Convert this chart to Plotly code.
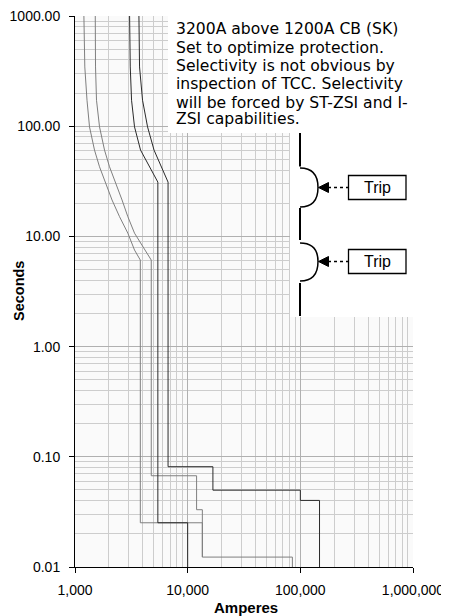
import plotly.graph_objects as go

gray_min_amps = [1197, 1222, 1278, 1345, 1490, 1651, 2131, 2485, 2944, 3376, 3800, 3800, 13500, 13500]
gray_min_secs = [1126, 345, 172, 98.6, 60.7, 42.8, 21.4, 15.1, 10.7, 7.52, 6.1, 0.0252, 0.0252, 0.0123]

gray_max_amps = [1512, 1521, 1552, 1651, 1828, 2025, 2615, 2944, 3376, 4142, 4751, 4751,
                 12000, 12000, 13500, 13500, 85000, 85000]
gray_max_secs = [1126, 345, 172, 98.6, 60.7, 42.8, 21.4, 15.1, 10.7, 7.52, 6.1, 0.0673,
                 0.0673, 0.0331, 0.0331, 0.0123, 0.0123, 0.01]

black_min_amps = [3048, 3093, 3176, 3376, 3817, 4588, 5437, 5437, 10000, 10000]
black_min_secs = [1126, 345, 172, 98.6, 60.7, 42.8, 31.1, 0.0252, 0.0252, 0.01]

black_max_amps = [3687, 3740, 3976, 4405, 5030, 5865, 6699, 6699, 16750, 16750,
                  100000, 100000, 148000, 148000]
black_max_secs = [1126, 345, 172, 98.6, 60.7, 42.8, 31.1, 0.0813, 0.0813, 0.0498,
                  0.0498, 0.0402, 0.0402, 0.01]

x_tick_vals = [1000, 10000, 100000, 1000000]
x_tick_text = ["1,000", "10,000", "100,000", "1,000,000"]
y_tick_vals = [0.01, 0.1, 1, 10, 100, 1000]
y_tick_text = ["0.01", "0.10", "1.00", "10.00", "100.00", "1000.00"]

note_lines = ["3200A above 1200A CB (SK)",
              "Set to optimize protection.",
              "Selectivity is not obvious by",
              "inspection of TCC. Selectivity",
              "will be forced by ST-ZSI and I-",
              "ZSI capabilities."]
trip_label = "Trip"
x_title = "Amperes"
y_title = "Seconds"

# ---------------- layout helpers ----------------
# the page body adds an 8px margin, so the figure is sized to fit the window
OFF = 8
W, H = 441, 608
L, T, R, B = 67, 8, 36, 49
PW, PH = W - L - R, H - T - B


def fx(px):
    """screen pixel x -> paper x"""
    return (px - OFF - L) / PW


def fy(py):
    """screen pixel y -> paper y"""
    return (H - B - (py - OFF)) / PH


FONT = "Liberation Sans, Arial, sans-serif"
DARK = "#2a2a2a"
GRAY = "#7f7f7f"

fig = go.Figure()
for amps, secs, col in [(gray_min_amps, gray_min_secs, GRAY),
                        (gray_max_amps, gray_max_secs, GRAY),
                        (black_min_amps, black_min_secs, DARK),
                        (black_max_amps, black_max_secs, DARK)]:
    fig.add_trace(go.Scatter(x=amps, y=secs, mode="lines",
                             line=dict(color=col, width=1), hoverinfo="skip",
                             showlegend=False))


def minor_vals(lo, hi):
    out = []
    for e in range(lo, hi):
        for k in range(2, 10):
            out.append(k * 10 ** e)
    return out


axis_common = dict(type="log", showline=True, linecolor="black", linewidth=1,
                   ticks="outside", ticklen=5, tickcolor="black", mirror=False,
                   showgrid=True, gridcolor="#b0b0b0", gridwidth=1, automargin=False,
                   ticklabeloverflow="allow",
                   tickfont=dict(family=FONT, size=14, color="black"), zeroline=False)

fig.update_xaxes(range=[3, 6], tickmode="array", tickvals=x_tick_vals, ticktext=x_tick_text,
                 ticklabelstandoff=5,
                 minor=dict(tickmode="array", tickvals=minor_vals(3, 6), showgrid=True,
                            gridcolor="#cdcdcd", gridwidth=1, ticks=""),
                 **axis_common)
fig.update_yaxes(range=[-2, 3], tickmode="array", tickvals=y_tick_vals, ticktext=y_tick_text,
                 ticklabelstandoff=6,
                 minor=dict(tickmode="array", tickvals=minor_vals(-2, 3), showgrid=True,
                            gridcolor="#cdcdcd", gridwidth=1, ticks=""),
                 **axis_common)

shapes = []
# white panels covering the grid behind the note and the trip sketch
shapes.append(dict(type="rect", xref="paper", yref="paper", x0=fx(168), x1=fx(460),
                   y0=fy(133), y1=fy(0), fillcolor="white", line=dict(width=0), layer="above"))
shapes.append(dict(type="rect", xref="paper", yref="paper", x0=fx(290), x1=fx(460),
                   y0=fy(317), y1=fy(132), fillcolor="white", line=dict(width=0), layer="above"))

# vertical bracket line segments
for y0, y1 in [(133, 166.5), (208, 240), (283, 316)]:
    shapes.append(dict(type="line", xref="paper", yref="paper", x0=fx(300), x1=fx(300),
                       y0=fy(y0), y1=fy(y1), line=dict(color="black", width=2), layer="above"))

# ")" brackets, dashed arrows, arrow heads, trip boxes
for top, mid, bot in [(168, 187.5, 207), (243, 261.5, 281)]:
    path = (f"M {fx(300)},{fy(top)} C {fx(313)},{fy(top)} {fx(318)},{fy(top + 8)} {fx(318)},{fy(mid)} "
            f"C {fx(318)},{fy(bot - 8)} {fx(313)},{fy(bot)} {fx(300)},{fy(bot)}")
    shapes.append(dict(type="path", xref="paper", yref="paper", path=path,
                       line=dict(color="black", width=1.5), layer="above"))
    shapes.append(dict(type="line", xref="paper", yref="paper", x0=fx(328), x1=fx(348),
                       y0=fy(mid), y1=fy(mid), line=dict(color="black", width=1.5, dash="3px,3px"),
                       layer="above"))
    head = (f"M {fx(318.5)},{fy(mid)} L {fx(328.5)},{fy(mid - 5)} L {fx(328.5)},{fy(mid + 5)} Z")
    shapes.append(dict(type="path", xref="paper", yref="paper", path=head,
                       fillcolor="black", line=dict(color="black", width=1), layer="above"))
    shapes.append(dict(type="rect", xref="paper", yref="paper", x0=fx(348.5), x1=fx(406),
                       y0=fy(mid + 12), y1=fy(mid - 12), fillcolor="white",
                       line=dict(color="black", width=1.3), layer="above"))

annotations = []
for (top, mid, bot) in [(168, 187.5, 207), (243, 261.5, 281)]:
    annotations.append(dict(xref="paper", yref="paper", x=fx(377), y=fy(mid), text=trip_label,
                            showarrow=False, xanchor="center", yanchor="middle",
                            font=dict(family=FONT, size=16, color="black")))

line_centers = [28.3, 46.7, 65, 83.3, 101.7, 118]
for txt, yc in zip(note_lines, line_centers):
    annotations.append(dict(xref="paper", yref="paper", x=fx(174), y=fy(yc + 1), text=txt,
                            showarrow=False, xanchor="left", yanchor="middle",
                            font=dict(family="DejaVu Sans, sans-serif", size=15.6, color="black")))

annotations.append(dict(xref="paper", yref="paper", x=fx(246), y=fy(607), text=f"<b>{x_title}</b>",
                        showarrow=False, xanchor="center", yanchor="middle",
                        font=dict(family=FONT, size=15, color="black")))
annotations.append(dict(xref="paper", yref="paper", x=fx(18.5), y=fy(291.5), text=f"<b>{y_title}</b>",
                        showarrow=False, xanchor="center", yanchor="middle", textangle=-90,
                        font=dict(family=FONT, size=14.5, color="black")))

fig.update_layout(width=W, height=H, margin=dict(l=L, r=R, t=T, b=B),
                  paper_bgcolor="white", plot_bgcolor="#fafafa",
                  shapes=shapes, annotations=annotations, showlegend=False,
                  font=dict(family=FONT, color="black"))

fig.write_html("out.html")
